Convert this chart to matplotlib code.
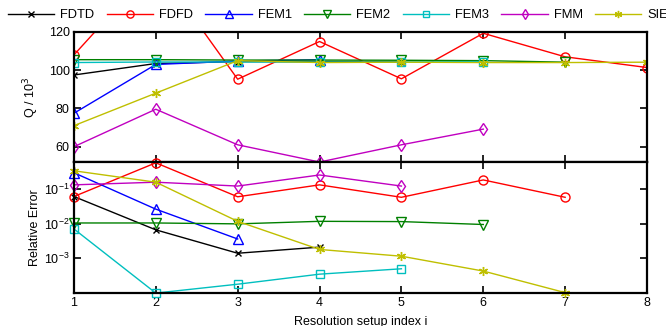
import numpy as np
import matplotlib
matplotlib.use("Agg")
import matplotlib.pyplot as plt

plt.rcParams['font.family'] = ['Liberation Sans', 'DejaVu Sans']

# Q / 10^3 values per method (index 1..n)
q_fdtd = [97.5, 103.5, 104.5, 104.5, 104.3]
q_fdfd = [108, 155, 95.3, 115, 95.5, 119.3, 107, 101.4]
q_fem1 = [77.5, 103, 104.8, 105.5]
q_fem2 = [105.5, 105.5, 105.3, 105.3, 105.2, 105.0, 104.2]
q_fem3 = [104, 104.3, 104.3, 104.3, 104.3, 104.5]
q_fmm = [60, 79.6, 61, 52, 61, 69.2]
q_sie = [71, 88, 105, 104, 104.2, 104, 104, 104.2]

# relative error per method
e_fdtd = [0.06, 0.0066, 0.0014, 0.0021]
e_fdfd = [0.06, 0.56, 0.059, 0.13, 0.057, 0.18, 0.057]
e_fem1 = [0.29, 0.026, 0.0036]
e_fem2 = [0.0104, 0.0104, 0.0098, 0.0116, 0.0114, 0.0094]
e_fem3 = [0.0070, 1.0e-4, 1.8e-4, 3.5e-4, 5.0e-4]
e_fmm = [0.13, 0.155, 0.12, 0.25, 0.12]
e_sie = [0.33, 0.155, 0.0116, 0.0018, 0.00115, 0.00043, 1.03e-4]

names = ['FDTD', 'FDFD', 'FEM1', 'FEM2', 'FEM3', 'FMM', 'SIE']
colors = ['k', 'r', 'b', '#008000', '#00BFBF', '#C000C0', '#BFBF00']
markers = ['x', 'o', '^', 'v', 's', 'd', (6, 2, 0)]
sizes = [5, 6.5, 6.5, 6.5, 6, 6.5, 6.5]
q_all = [q_fdtd, q_fdfd, q_fem1, q_fem2, q_fem3, q_fmm, q_sie]
e_all = [e_fdtd, e_fdfd, e_fem1, e_fem2, e_fem3, e_fmm, e_sie]

fig = plt.figure(figsize=(6.66, 3.26), dpi=100)
ax1 = fig.add_axes([0.111, 0.503, 0.8605, 0.399])
ax2 = fig.add_axes([0.111, 0.101, 0.8605, 0.402])

handles = []
for name, c, m, ms, q, e in zip(names, colors, markers, sizes, q_all, e_all):
    h, = ax1.plot(np.arange(1, len(q) + 1), q, color=c, marker=m, mfc='none',
                  mec=c, ms=ms, lw=1, label=name)
    ax2.plot(np.arange(1, len(e) + 1), e, color=c, marker=m, mfc='none',
             mec=c, ms=ms, lw=1, clip_on=False)
    handles.append(h)

ax1.set_xlim(1, 8)
ax1.set_ylim(52, 120)
ax1.set_yticks([60, 80, 100, 120])
ax1.set_xticks(range(1, 9))
ax1.set_xticklabels([])
ax1.set_ylabel('Q / 10$^3$', fontsize=9)

ax2.set_xlim(1, 8)
ax2.set_yscale('log')
ax2.set_ylim(1.0e-4, 0.59)
ax2.set_yticks([1e-3, 1e-2, 1e-1])
ax2.yaxis.set_minor_locator(matplotlib.ticker.NullLocator())
ax2.set_xticks(range(1, 9))
ax2.set_ylabel('Relative Error', fontsize=9)
ax2.set_xlabel('Resolution setup index i', fontsize=9, labelpad=5)

for ax in (ax1, ax2):
    ax.tick_params(direction='in', top=True, right=True, labelsize=9,
                   length=5, width=1.2, pad=3)
    ax.yaxis.set_label_coords(-0.058, 0.5)
    for s in ax.spines.values():
        s.set_linewidth(1.6)

fig.legend(handles=handles, loc='upper left', ncol=7, frameon=False,
           bbox_to_anchor=(0.012, 0.972), fontsize=9.3, handlelength=3.6,
           columnspacing=0.95, handletextpad=0.45, borderpad=0,
           borderaxespad=0, markerscale=0.8)

fig.savefig('out.png', dpi=100)
